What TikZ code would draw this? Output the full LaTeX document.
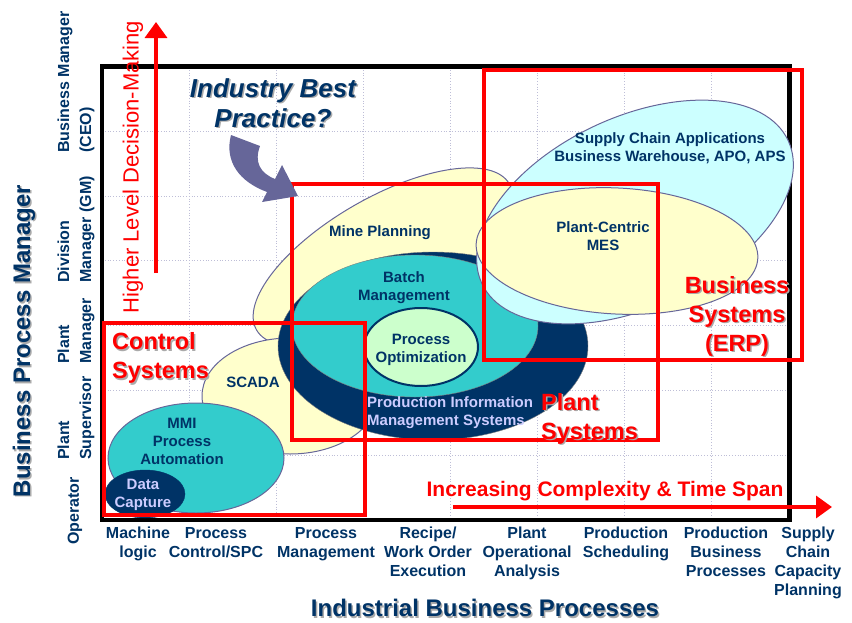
\documentclass[tikz,border=0pt]{standalone}
\usepackage{fontspec}
\setmainfont{Liberation Sans}
\usetikzlibrary{arrows.meta}

\definecolor{navy}{RGB}{0,51,102}
\definecolor{slate}{RGB}{102,102,153}
\definecolor{paleyellow}{RGB}{255,255,204}
\definecolor{aqua}{RGB}{51,204,204}
\definecolor{paleaqua}{RGB}{204,255,255}
\definecolor{palegreen}{RGB}{204,255,204}
\definecolor{lavender}{RGB}{204,204,255}
\definecolor{gridgray}{RGB}{190,190,215}
\definecolor{shadowgray}{RGB}{170,170,170}

\tikzset{
  lbl/.style={font=\bfseries\fontsize{15}{18}\selectfont, text=navy, align=center, inner sep=0pt},
  axlbl/.style={font=\bfseries\fontsize{16}{19}\selectfont, text=navy, align=center, inner sep=0pt, anchor=north},
  rolelbl/.style={font=\bfseries\fontsize{16}{22}\selectfont, text=navy, align=left, inner sep=0pt, rotate=90, anchor=west},
  title/.style={font=\bfseries\fontsize{24}{28}\selectfont, text=navy, inner sep=0pt},
  syslbl/.style={font=\bfseries\fontsize{23.5}{29}\selectfont, text=red, inner sep=0pt},
  sysbox/.style={draw=red, line width=4pt},
  bubble/.style={draw=slate, line width=1pt},
  gridline/.style={draw=gridgray, dotted, line width=0.8pt},
  bigarrow/.style={red, line width=3.5pt, -{Triangle[length=16pt,width=22pt]}}
}

% text with a grey drop shadow
\newcommand{\shadowlabel}[4]{%
  \node[xshift=1.5pt,yshift=-1.5pt,#1,text=shadowgray] at #2 {#4};
  \node[#1] (#3) at #2 {#4};}

\begin{document}
\begin{tikzpicture}[x=1pt,y=-1pt]
  \useasboundingbox (0,0) rectangle (852,622);

  % grid
  \foreach \gx in {189,276,363,450,537,624,711}
    \draw[gridline] (\gx,67) -- (\gx,518);
  \foreach \gy in {131,196,260,325,390,455}
    \draw[gridline] (102,\gy) -- (790,\gy);

  % frame
  \draw[line width=4.5pt] (102,66.5) rectangle (789.5,520);

  % application bubbles
  \filldraw[bubble, fill=paleyellow, rotate around={30:(383,257)}] (383,257) ellipse [x radius=146, y radius=59];
  \filldraw[bubble, fill=paleyellow] (290,396) ellipse [x radius=88, y radius=58];
  \filldraw[bubble, fill=aqua] (196,458) ellipse [x radius=88, y radius=55];
  \filldraw[draw=navy, fill=navy] (145,494) ellipse [x radius=40, y radius=24];
  \filldraw[draw=gray, fill=navy] (433,346) ellipse [x radius=155, y radius=94];
  \filldraw[draw=gray, fill=aqua] (415,326) ellipse [x radius=123, y radius=71];
  \filldraw[draw=navy, line width=2pt, fill=palegreen] (421,347) ellipse [x radius=57, y radius=39];
  \filldraw[bubble, fill=paleaqua, rotate around={25:(635,212)}] (635,212) ellipse [x radius=169, y radius=95];
  \filldraw[bubble, fill=paleyellow, rotate around={-3:(617,251)}] (617,251) ellipse [x radius=141, y radius=63];

  \node[lbl] (scm) at (670,148) {Supply Chain Applications\\Business Warehouse, APO, APS};
  \node[lbl] (mes) at (603,236) {Plant-Centric\\MES};
  \node[lbl] (mine) at (380,233) {Mine Planning};
  \node[lbl] (batch) at (404,288) {Batch\\Management};
  \node[lbl] (opt) at (421,350) {Process\\Optimization};
  \node[lbl, text=lavender, align=left, anchor=west] (pims) at (367,413) {Production Information\\Management Systems};
  \node[lbl] (scada) at (253,382) {SCADA};
  \node[lbl] (mmi) at (182,441) {MMI\\Process\\Automation};
  \node[lbl, text=lavender] (dcap) at (143,495) {Data\\Capture};

  % system boundaries
  \draw[sysbox] (104,323) rectangle (365,515);
  \draw[sysbox] (292,184) rectangle (658,440);
  \draw[sysbox] (484,69.5) rectangle (802,360);

  \shadowlabel{syslbl, align=left, anchor=north west}{(112,332.5)}{ctrl}{Control\\Systems}
  \shadowlabel{syslbl, align=left, anchor=north west}{(541,393)}{plant}{Plant\\Systems}
  \shadowlabel{syslbl, align=center, anchor=north}{(737,276)}{erp}{Business\\Systems\\(ERP)}

  % best practice arrow
  \fill[slate] (231,135) -- (260,146) .. controls (254,162) and (260,173) .. (275,179)
    -- (282,165) -- (298,196) -- (262,202) -- (267,192)
    .. controls (240,182) and (224,162) .. (231,135) -- cycle;
  \shadowlabel{title, font=\bfseries\itshape\fontsize{26}{30}\selectfont, align=center}{(273,103)}{best}{Industry Best\\Practice?}

  % decision level axis
  \coordinate (up0) at (156,273);
  \coordinate (up1) at (156,22);
  \draw[bigarrow] (up0) -- (up1);
  \node[font=\fontsize{22}{26}\selectfont, text=red, inner sep=0pt, rotate=90] (higher) at (133,167) {Higher Level Decision-Making};

  % complexity axis
  \coordinate (rt0) at (453,507);
  \coordinate (rt1) at (832,507);
  \draw[bigarrow] (rt0) -- (rt1);
  \node[font=\bfseries\fontsize{21}{25}\selectfont, text=red, inner sep=0pt] (span) at (605,491) {Increasing Complexity \& Time Span};

  % roles
  \node[rolelbl] (ceo) at (76,153) {Business Manager\\(CEO)};
  \node[rolelbl] (gm) at (76,283) {Division\\Manager (GM)};
  \node[rolelbl] (pm) at (76,364) {Plant\\Manager};
  \node[rolelbl] (ps) at (76,460) {Plant\\Supervisor};
  \node[rolelbl] (op) at (75,545) {Operator};
  \shadowlabel{title, rotate=90}{(24,341)}{ytitle}{Business Process Manager}

  % processes
  \node[axlbl] (p1) at (138,527) {Machine\\logic};
  \node[axlbl] (p2) at (216,527) {Process\\Control/SPC};
  \node[axlbl] (p3) at (326,527) {Process\\Management};
  \node[axlbl] (p4) at (428,527) {Recipe/\\Work Order\\Execution};
  \node[axlbl] (p5) at (527,527) {Plant\\Operational\\Analysis};
  \node[axlbl] (p6) at (626,527) {Production\\Scheduling};
  \node[axlbl] (p7) at (726,527) {Production\\Business\\Processes};
  \node[axlbl] (p8) at (808,527) {Supply\\Chain\\Capacity\\Planning};
  \shadowlabel{title}{(485,608)}{xtitle}{Industrial Business Processes}
\end{tikzpicture}
\end{document}
